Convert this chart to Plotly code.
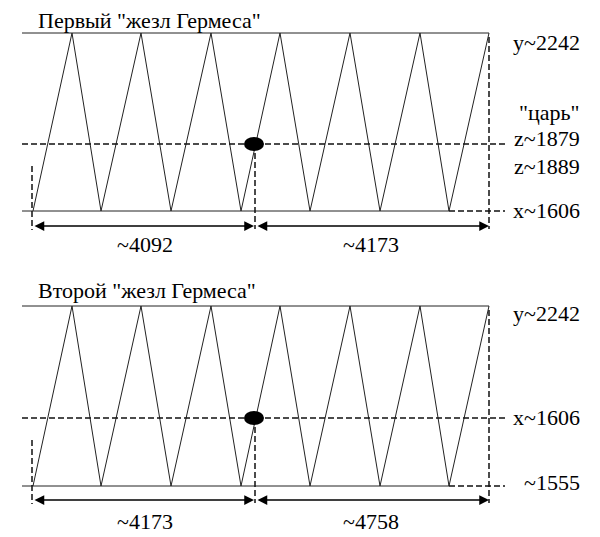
import plotly.graph_objects as go

# ---------------- data: texts/values shown in the diagram ----------------
panel_titles = ['Первый "жезл Гермеса"', 'Второй "жезл Гермеса"']
top_labels = ["y~2242", "y~2242"]
mid_labels = [['"царь"', "z~1879", "z~1889"], ["x~1606"]]
bottom_labels = ["x~1606", "~1555"]
span_labels = [["~4092", "~4173"], ["~4173", "~4758"]]

# ---------------- layout geometry (pixel space of the screenshot) ----------------
W, H = 600, 537
PAGE_MARGIN = 8  # default body margin of the html page
FONT = "Liberation Serif"
peaks_x = [72, 141, 211, 280, 350, 420]
valleys_x = [101, 171, 241, 310, 380, 449]
start_x, end_x = 33, 489
left_x, dash_end_x, split_x = 22, 505, 254
label_right_x = 582
panels = [
    dict(top=33, bottom=211, mid=144, arrow=226, title_dy=-13, top_dy=9,
         mid_dy=[-32, -6, 22], bot_dy=-1, span_dy=18, ldash_top=166),
    dict(top=306, bottom=486, mid=418, arrow=500, title_dy=-16, top_dy=7,
         mid_dy=[-1], bot_dy=-4, span_dy=21, ldash_top=440),
]

fig = go.Figure()
ann = []
shapes = []


def line(xs, ys, dash=None, width=1.0, color="#111"):
    fig.add_trace(go.Scatter(x=xs, y=ys, mode="lines", hoverinfo="skip",
                             line=dict(color=color, width=width,
                                       dash=dash or "solid"),
                             showlegend=False))


def text(x, y, s, xanchor="center"):
    ann.append(dict(x=x, y=y, xref="x", yref="y", text=s, showarrow=False,
                    xanchor=xanchor, yanchor="middle",
                    font=dict(family=FONT, size=22, color="#000")))


def arrow(x0, x1, y):
    ann.append(dict(x=x1, y=y, ax=x0, ay=y, xref="x", yref="y", axref="x",
                    ayref="y", text="", showarrow=True, arrowside="end+start",
                    arrowhead=2, startarrowhead=2, arrowsize=1.3,
                    startarrowsize=1.3, arrowwidth=1.5, arrowcolor="#000",
                    standoff=0, startstandoff=0))


DASH = "6px,3px"
for i, p in enumerate(panels):
    top, bot, mid, ay = p["top"], p["bottom"], p["mid"], p["arrow"]
    # zig-zag ("жезл")
    zx = [start_x]
    zy = [bot]
    for pk, vl in zip(peaks_x, valleys_x):
        zx += [pk, vl]
        zy += [top, bot]
    zx.append(end_x)
    zy.append(top)
    line(zx, zy, width=1.0, color="#222")
    # solid frame lines
    line([left_x, end_x], [top, top], width=1.0, color="#222")
    line([left_x, valleys_x[-1]], [bot, bot], width=1.0, color="#222")
    # dashed lines
    line([valleys_x[-1], dash_end_x], [bot, bot], dash=DASH, width=1.5)
    line([left_x, dash_end_x], [mid, mid], dash=DASH, width=1.5)
    line([start_x - 1, start_x - 1], [p["ldash_top"], ay + 4], dash=DASH, width=1.5)
    line([split_x + 1, split_x + 1], [mid, ay + 3], dash=DASH, width=1.5)
    line([end_x, end_x], [top + 4, ay + 3], dash=DASH, width=1.5)
    # black dot
    shapes.append(dict(type="circle", xref="x", yref="y", x0=split_x - 10,
                       x1=split_x + 10, y0=mid - 7, y1=mid + 7,
                       fillcolor="#000", line=dict(color="#000", width=0)))
    # dimension arrows
    arrow(start_x, split_x, ay)
    arrow(split_x + 2, end_x, ay)
    # texts
    text(36, top + p["title_dy"], panel_titles[i], xanchor="left")
    text(label_right_x, top + p["top_dy"], top_labels[i], xanchor="right")
    for s, dy in zip(mid_labels[i], p["mid_dy"]):
        text(label_right_x, mid + dy, s, xanchor="right")
    text(label_right_x, bot + p["bot_dy"], bottom_labels[i], xanchor="right")
    text((start_x + split_x) / 2 + 1, ay + p["span_dy"], span_labels[i][0])
    text((split_x + end_x) / 2 - 1, ay + p["span_dy"], span_labels[i][1])

fig.update_layout(
    width=W, height=H, margin=dict(l=0, r=0, t=0, b=0),
    paper_bgcolor="white", plot_bgcolor="white",
    xaxis=dict(range=[PAGE_MARGIN, W + PAGE_MARGIN], visible=False, fixedrange=True),
    yaxis=dict(range=[H + PAGE_MARGIN, PAGE_MARGIN], visible=False, fixedrange=True),
    annotations=ann, shapes=shapes, showlegend=False,
)
fig.write_html("out.html")
